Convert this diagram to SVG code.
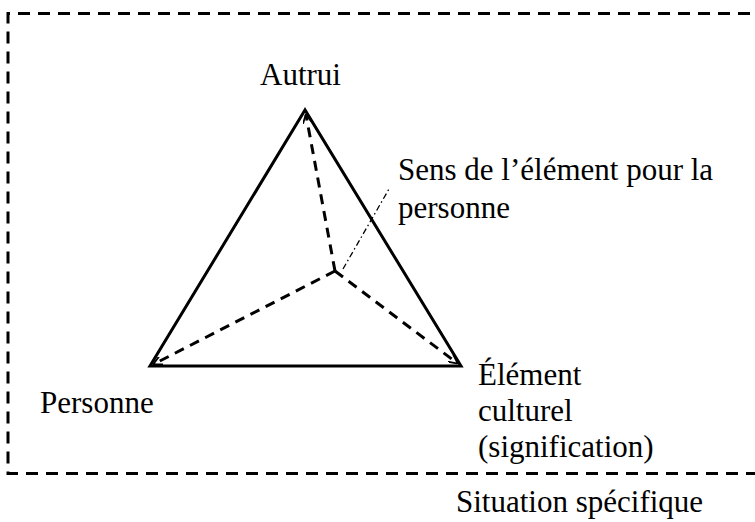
<svg xmlns="http://www.w3.org/2000/svg" width="755" height="522" viewBox="0 0 755 522">
<style>
text{font-family:'Liberation Serif',serif;font-size:31px;fill:#000}
.frame{fill:none;stroke:#000;stroke-width:3;stroke-dasharray:12 8}
.tri{fill:none;stroke:#000;stroke-width:3;stroke-linejoin:miter}
.d{fill:none;stroke:#000;stroke-width:3;stroke-dasharray:10 7}
.dd{fill:none;stroke:#000;stroke-width:1.3;stroke-dasharray:6 3 1.5 3}
</style>
<defs>
<marker id="ah" viewBox="0 0 10 10" refX="9" refY="5" markerWidth="3" markerHeight="3" orient="auto" markerUnits="strokeWidth">
<path d="M0,0 L10,5 L0,10" fill="none" stroke="#000" stroke-width="2"/>
</marker>
</defs>
<g id="frame"><path class="frame" d="M770,13.5 H8 V473.5 H770"/></g>
<g id="triangle"><path class="tri" d="M305,110 L150,366 L461,366 Z"/></g>
<g id="connectors">
<path class="d" d="M335,271 L306,115" marker-end="url(#ah)"/>
<path class="d" d="M335,271 L154,364" marker-end="url(#ah)"/>
<path class="d" d="M335,271 L457,363" marker-end="url(#ah)"/>
<path class="dd" d="M343,269 L389,189"/>
</g>
<g id="autrui"><text font-family="Liberation Serif" x="260" y="85">Autrui</text></g>
<g id="sens"><text font-family="Liberation Serif" x="398" y="180">Sens de l’élément pour la</text><text font-family="Liberation Serif" x="398" y="218">personne</text></g>
<g id="personne"><text font-family="Liberation Serif" x="40" y="413">Personne</text></g>
<g id="element"><text font-family="Liberation Serif" x="478" y="385">Élément</text><text font-family="Liberation Serif" x="478" y="421">culturel</text><text font-family="Liberation Serif" x="478" y="457">(signification)</text></g>
<g id="situation"><text font-family="Liberation Serif" x="456" y="512">Situation spécifique</text></g>
</svg>
